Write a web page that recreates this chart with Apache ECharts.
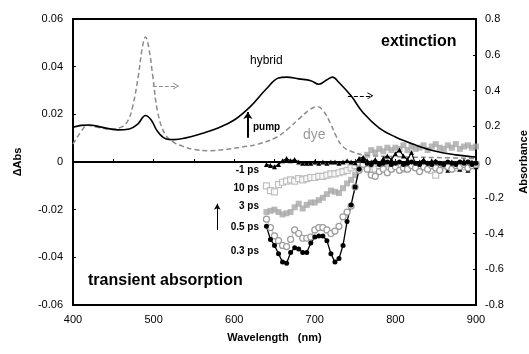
<!DOCTYPE html>
<html>
<head>
<meta charset="utf-8">
<script src="https://cdn.jsdelivr.net/npm/echarts@6/dist/echarts.min.js"></script>
<style>
  html, body { margin: 0; padding: 0; background: #fff; }
  #chart { width: 529px; height: 354px; }
</style>
</head>
<body>
<div id="chart"></div>
<script>
// steady-state extinction (right axis, absorbance)
const hybridWl = [400, 410, 420, 435, 455, 470, 480, 490, 497, 505, 515, 525, 540, 560, 580, 600, 620, 640, 655, 665, 680, 695, 705, 715, 722, 730, 745, 760, 780, 800, 825, 850, 875, 900];
const hybridAbs = [0.194, 0.205, 0.207, 0.195, 0.18, 0.185, 0.21, 0.26, 0.235, 0.17, 0.13, 0.125, 0.135, 0.16, 0.19, 0.235, 0.31, 0.41, 0.47, 0.475, 0.465, 0.455, 0.435, 0.46, 0.475, 0.445, 0.37, 0.275, 0.19, 0.14, 0.095, 0.06, 0.04, 0.028];

const dyeWl = [400, 410, 418, 430, 445, 460, 468, 474, 481, 486, 490, 494, 499, 505, 514, 525, 535, 550, 570, 590, 610, 630, 653, 668, 680, 693, 703, 710, 719, 727, 735, 745, 760, 800, 850, 900];
const dyeAbs = [0.10, 0.17, 0.205, 0.195, 0.185, 0.195, 0.23, 0.31, 0.48, 0.64, 0.70, 0.64, 0.48, 0.28, 0.157, 0.11, 0.09, 0.07, 0.063, 0.07, 0.084, 0.10, 0.14, 0.19, 0.24, 0.29, 0.31, 0.29, 0.22, 0.14, 0.085, 0.06, 0.04, 0.03, 0.025, 0.02];

// transient absorption (left axis), values in mOD
const taWl = [640, 645, 650, 655, 660, 665, 670, 675, 680, 685, 690, 695, 700, 705, 710, 715, 720, 725, 730, 735, 740, 745, 750, 755, 760, 765, 770, 775, 780, 785, 790, 795, 800, 805, 810, 815, 820, 825, 830, 835, 840, 845, 850, 855, 860, 865, 870, 875, 880, 885, 890, 895, 900];
const taMinus1ps = [-1.0, -1.5, -2.0, -1.0, 0.5, 1.5, 0.5, 1.0, 0.0, -0.5, -0.5, -0.5, 0.0, -0.5, 0.0, -0.5, 0.0, 0.0, -0.5, 0.0, 0.5, 0.0, -0.3, 1.5, 2.0, 0.5, 0.0, 1.0, -0.5, 1.5, 2.5, 1.0, 3.5, 5.0, 2.5, 1.0, 4.0, -1.0, 0.0, 1.0, -2.0, 0.5, -1.0, -3.0, -1.0, -3.5, 0.0, -1.0, -3.0, 0.5, -3.5, 0.0, -2.0];
const ta10ps = [-10.0, -12.0, -12.5, -9.5, -8.5, -8.0, -7.5, -8.0, -7.0, -7.5, -7.0, -6.5, -6.5, -6.0, -6.0, -5.5, -5.0, -5.0, -4.5, -4.0, -3.5, -2.5, -1.5, -0.5, -1.0, -2.0, -3.5, -3.0, -1.5, -2.0, -3.0, -2.5, -1.0, -2.0, -3.0, -2.5, -1.5, -2.0, -3.0, -2.0, -1.5, -3.5, -5.5, -2.5, -1.5, -2.0, -1.0, -2.5, -1.0, -2.0, -0.5, -1.5, -1.0];
const ta3ps = [-21.0, -20.5, -20.0, -21.0, -22.0, -21.5, -21.0, -19.0, -17.5, -19.5, -18.0, -17.0, -17.0, -16.0, -15.0, -13.5, -12.0, -12.5, -13.0, -11.0, -9.0, -7.5, -5.5, -2.5, 1.0, 3.0, 5.0, 4.0, 5.5, 4.5, 6.0, 5.0, 6.0, 5.5, 7.0, 5.0, 6.5, 5.5, 6.0, 7.0, 5.0, 6.5, 7.5, 6.0, 5.5, 7.0, 6.0, 7.5, 5.5, 6.5, 7.0, 6.0, 6.5];
const ta05ps = [-24.0, -27.5, -31.0, -33.0, -35.0, -35.5, -32.5, -28.5, -30.0, -32.0, -32.0, -31.5, -28.5, -27.5, -27.5, -28.5, -30.0, -29.0, -27.0, -23.0, -21.0, -18.5, -10.5, -3.5, -1.0, -3.0, -5.5, -6.0, -4.0, -3.0, -4.5, -3.0, -2.0, -3.5, -2.5, -3.0, -1.5, -2.5, -4.0, -2.0, -3.0, -1.5, -2.5, -3.5, -1.0, -2.0, -3.0, -1.5, -2.0, -1.0, -2.5, -1.5, -1.0];
const ta03ps = [-27.0, -32.5, -35.0, -38.5, -42.0, -42.5, -38.0, -36.0, -36.5, -38.0, -38.0, -34.0, -31.5, -31.0, -31.0, -33.0, -38.5, -42.0, -40.5, -35.0, -25.0, -18.0, -10.5, -3.0, 0.5, -0.5, -1.0, 0.0, -1.0, -0.5, 0.0, -1.0, -0.5, 0.0, -1.0, -0.5, 0.0, -0.5, -1.0, 0.0, -0.5, -1.0, 0.0, -0.5, -1.0, 0.0, -0.5, -1.0, 0.0, -0.5, 0.0, -1.0, -0.5];

const FONT = "Liberation Sans";

function pairs(xs, ys, scale) {
  return xs.map((x, i) => [x, ys[i] * (scale || 1)]);
}

const chevron = "path://M0,10 L5,0 L10,10 L8.6,10 L5,3 L1.4,10 Z";

const chart = echarts.init(document.getElementById("chart"), null, { renderer: "canvas" });

const option = {
  animation: false,
  backgroundColor: "#fff",
  textStyle: { fontFamily: FONT, color: "#000" },
  grid: {
    left: 73, right: 53, top: 19, bottom: 49,
    outerBoundsMode: "none",
    show: true, borderColor: "#000", borderWidth: 2, backgroundColor: "transparent",
  },
  xAxis: {
    type: "value",
    min: 400, max: 900, interval: 100,
    name: "Wavelength   (nm)",
    nameLocation: "middle",
    nameGap: 27,
    nameTextStyle: { fontFamily: FONT, fontWeight: "bold", fontSize: 11, color: "#000" },
    axisLine: { lineStyle: { color: "#000", width: 2 } },
    axisTick: { inside: true, length: 3, lineStyle: { color: "#000" } },
    minorTick: { show: true, splitNumber: 2, length: 3, lineStyle: { color: "#000" } },
    axisLabel: { fontFamily: FONT, fontSize: 11, color: "#000", margin: 9 },
    splitLine: { show: false },
  },
  yAxis: [
    {
      type: "value",
      min: -0.06, max: 0.06, interval: 0.02,
      name: "ΔAbs",
      nameLocation: "middle",
      nameRotate: 90,
      nameGap: 50,
      nameTextStyle: { fontFamily: FONT, fontWeight: "bold", fontSize: 11, color: "#000" },
      axisLine: { show: true, lineStyle: { color: "#000", width: 2 } },
      axisTick: { show: true, inside: true, length: 3, lineStyle: { color: "#000" } },
      axisLabel: {
        fontFamily: FONT, fontSize: 11, color: "#000", margin: 10,
        formatter: (v) => (Math.abs(v) < 1e-9 ? "0" : v.toFixed(2)),
      },
      splitLine: { show: false },
    },
    {
      type: "value",
      min: -0.8, max: 0.8, interval: 0.2,
      position: "right",
      name: "Absorbance",
      nameLocation: "middle",
      nameRotate: 90,
      nameGap: 42,
      nameTextStyle: { fontFamily: FONT, fontWeight: "bold", fontSize: 11, color: "#000" },
      axisLine: { show: true, lineStyle: { color: "#000", width: 2 } },
      axisTick: { show: true, inside: true, length: 3, lineStyle: { color: "#000" } },
      axisLabel: {
        fontFamily: FONT, fontSize: 11, color: "#000", margin: 9,
        formatter: (v) => (Math.abs(v) < 1e-9 ? "0" : v.toFixed(1)),
      },
      splitLine: { show: false },
    },
  ],
  series: [
    {
      name: "dye",
      type: "line",
      yAxisIndex: 1,
      smooth: 0.4,
      showSymbol: false,
      lineStyle: { color: "#8c8c8c", width: 1.5, type: [5, 3] },
      data: pairs(dyeWl, dyeAbs),
      markLine: {
        silent: true,
        symbol: ["none", chevron],
        symbolSize: [7, 6],
        label: { show: false },
        lineStyle: { color: "#8c8c8c", width: 1.2, type: [4, 2] },
        data: [[{ coord: [499, 0.425] }, { coord: [528, 0.425] }]],
      },
    },
    {
      name: "hybrid",
      type: "line",
      yAxisIndex: 1,
      smooth: 0.4,
      showSymbol: false,
      lineStyle: { color: "#000", width: 1.6 },
      data: pairs(hybridWl, hybridAbs),
      markLine: {
        silent: true,
        label: { show: false },
        data: [
          [
            { coord: [741, 0.37], symbol: "none", lineStyle: { color: "#000", width: 1.2, type: [4, 2] } },
            { coord: [769, 0.37], symbol: chevron, symbolSize: [7, 6] },
          ],
          [
            { coord: [617, 0.135], symbol: "none", lineStyle: { color: "#000", width: 2, type: "solid" } },
            { coord: [617, 0.28], symbol: "arrow", symbolSize: [7, 7] },
          ],
        ],
      },
    },
    {
      name: "-1 ps",
      type: "line",
      yAxisIndex: 0,
      showAllSymbol: true,
      symbol: "triangle",
      symbolSize: 5,
      itemStyle: { color: "#000" },
      lineStyle: { color: "#000", width: 1.2 },
      data: pairs(taWl, taMinus1ps, 0.001),
      markLine: {
        silent: true,
        symbol: "none",
        label: { show: false },
        lineStyle: { color: "#000", width: 1.6, type: "solid" },
        data: [{ yAxis: 0 }],
      },
    },
    {
      name: "10 ps",
      type: "scatter",
      yAxisIndex: 0,
      symbol: "rect",
      symbolSize: 6,
      itemStyle: { color: "#fff", borderColor: "#b0b0b0", borderWidth: 1.2 },
      data: pairs(taWl, ta10ps, 0.001),
    },
    {
      name: "3 ps",
      type: "scatter",
      yAxisIndex: 0,
      symbol: "rect",
      symbolSize: 6,
      itemStyle: { color: "#a8a8a8" },
      data: pairs(taWl, ta3ps, 0.001),
    },
    {
      name: "0.5 ps",
      type: "line",
      yAxisIndex: 0,
      showAllSymbol: true,
      symbol: "circle",
      symbolSize: 6,
      itemStyle: { color: "#fff", borderColor: "#9a9a9a", borderWidth: 1.2 },
      lineStyle: { color: "#bdbdbd", width: 1 },
      data: pairs(taWl, ta05ps, 0.001),
      markLine: {
        silent: true,
        label: { show: false },
        data: [[
          { coord: [579, -0.0285], symbol: "none", lineStyle: { color: "#000", width: 1, type: "solid" } },
          { coord: [579, -0.0175], symbol: "arrow", symbolSize: [5, 6] },
        ]],
      },
    },
    {
      name: "0.3 ps",
      type: "line",
      yAxisIndex: 0,
      showAllSymbol: true,
      symbol: "circle",
      symbolSize: 5,
      itemStyle: { color: "#000" },
      lineStyle: { color: "#000", width: 1.3 },
      data: pairs(taWl, ta03ps, 0.001),
    },
  ],
  graphic: [
    { type: "text", left: 381, top: 34, style: { text: "extinction", fontFamily: FONT, fontWeight: "bold", fontSize: 16, fill: "#000" } },
    { type: "text", left: 88, top: 273, style: { text: "transient absorption", fontFamily: FONT, fontWeight: "bold", fontSize: 16, fill: "#000" } },
    { type: "text", left: 250, top: 55, style: { text: "hybrid", fontFamily: FONT, fontSize: 12, fill: "#000" } },
    { type: "text", left: 253, top: 122, style: { text: "pump", fontFamily: FONT, fontWeight: "bold", fontSize: 10, fill: "#000" } },
    { type: "text", left: 303, top: 128, style: { text: "dye", fontFamily: FONT, fontSize: 14, fill: "#9a9a9a" } },
    { type: "text", right: 270, top: 165, style: { text: "-1 ps", fontFamily: FONT, fontWeight: "bold", fontSize: 10, fill: "#000" } },
    { type: "text", right: 270, top: 183, style: { text: "10 ps", fontFamily: FONT, fontWeight: "bold", fontSize: 10, fill: "#000" } },
    { type: "text", right: 270, top: 201, style: { text: "3 ps", fontFamily: FONT, fontWeight: "bold", fontSize: 10, fill: "#000" } },
    { type: "text", right: 270, top: 222, style: { text: "0.5 ps", fontFamily: FONT, fontWeight: "bold", fontSize: 10, fill: "#000" } },
    { type: "text", right: 270, top: 246, style: { text: "0.3 ps", fontFamily: FONT, fontWeight: "bold", fontSize: 10, fill: "#000" } },
  ],
};

chart.setOption(option);
</script>
</body>
</html>
